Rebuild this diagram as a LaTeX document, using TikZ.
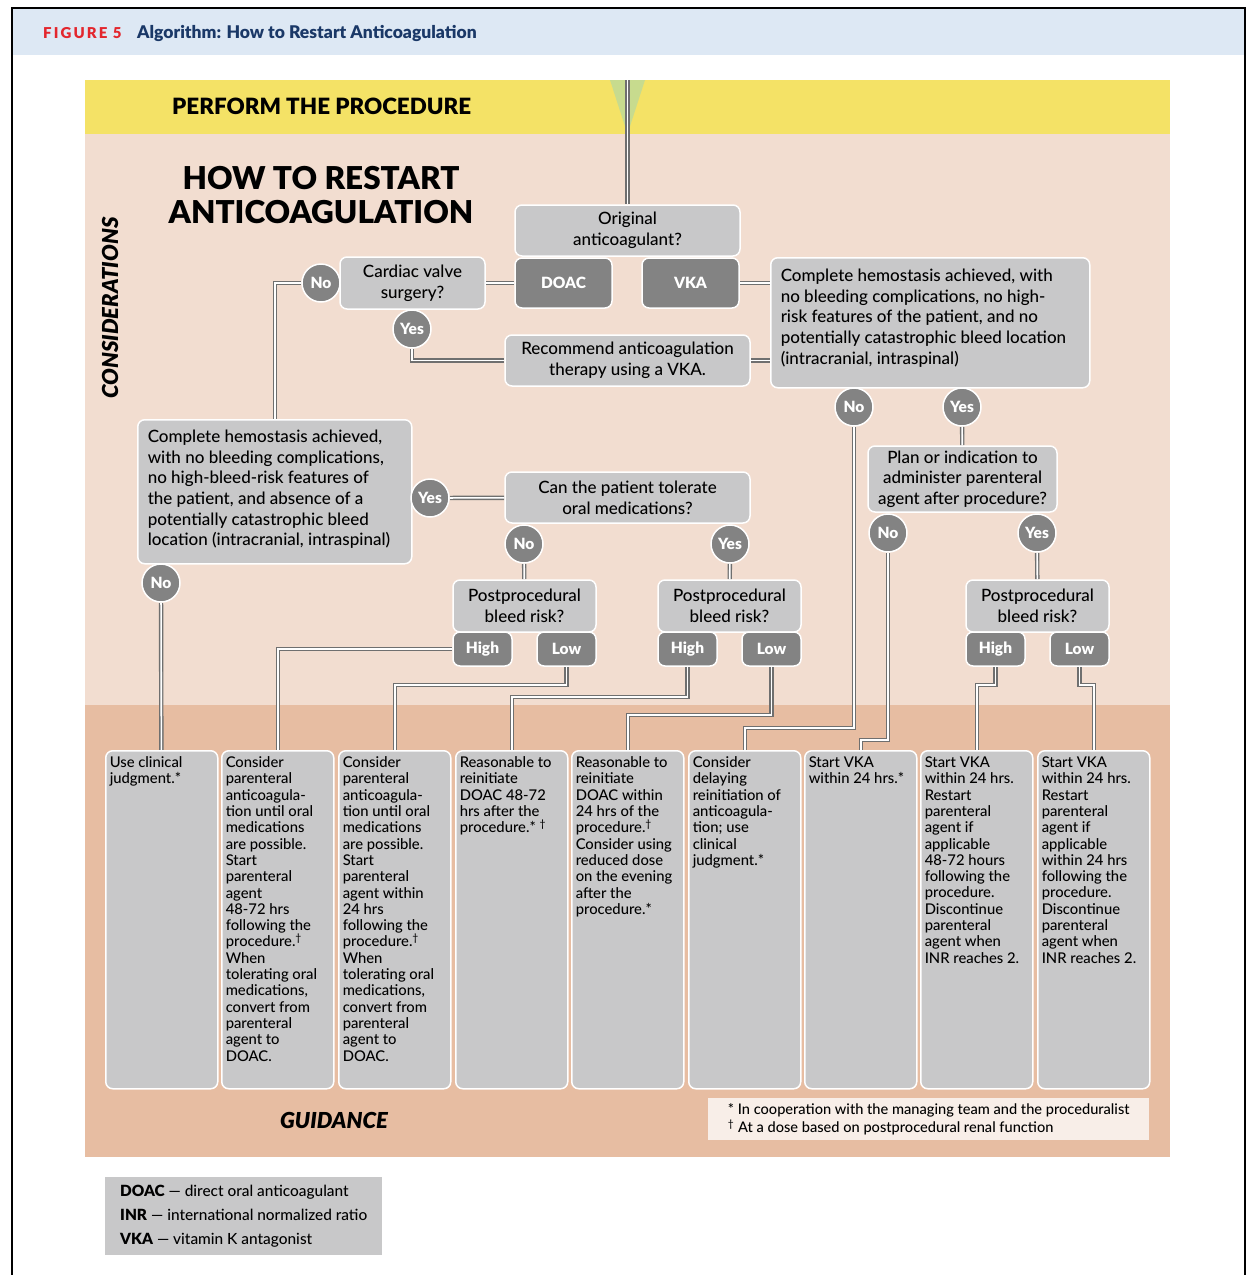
\documentclass[tikz,border=0pt]{standalone}
\usepackage{fontspec}
\setmainfont{Lato}[UprightFont={* Medium}]
\newfontfamily\figfont[LetterSpace=14]{Lato Black}
\usepackage{tikz}
\definecolor{hdrblue}{HTML}{DDE8F4}
\definecolor{figred}{HTML}{E3262D}
\definecolor{navy}{HTML}{1A3867}
\definecolor{procyellow}{HTML}{F4E266}
\definecolor{leafgreen}{HTML}{C7DB8E}
\definecolor{conspink}{HTML}{F2DDD0}
\definecolor{guidepink}{HTML}{E7BDA2}
\definecolor{boxgray}{HTML}{C8C8C9}
\definecolor{tabgray}{HTML}{838383}
\definecolor{linegray}{HTML}{6F6F6F}
\definecolor{notecream}{HTML}{F8EEE8}
\pgfdeclarelayer{bands}
\pgfdeclarelayer{links}
\pgfsetlayers{bands,links,main}

\begin{document}
\begin{tikzpicture}[x=1pt,y=-1pt]
\tikzstyle{every node}+=[inner sep=0pt]
\tikzstyle{qbox}=[draw=white, line width=1.5pt, fill=boxgray, rounded corners=7pt, align=center, font=\fontsize{17}{20.7}\selectfont]
\tikzstyle{tab}=[qbox, fill=tabgray, text=white, font=\bfseries\fontsize{15.5}{18}\selectfont]
\tikzstyle{yn}=[circle, draw=white, line width=1.5pt, fill=tabgray, text=white, minimum size=38pt, font=\bfseries\fontsize{15.5}{18}\selectfont]
\tikzstyle{gbox}=[qbox, anchor=north west, inner xsep=4pt, inner ysep=6pt, align=left, font=\fontsize{14.8}{16.3}\selectfont]
\tikzstyle{link}=[draw=linegray, line width=1.4pt, double=white, double distance=1.6pt]
\useasboundingbox (0,0) rectangle (1247,1275);

\begin{pgfonlayer}{bands}
\fill[white] (0,0) rectangle (1247,1275);
\fill[hdrblue] (13,9) rectangle (1244,55);
\draw[line width=1.5pt] (12,1276) -- (12,8) -- (1245,8) -- (1245,1276);
\fill[procyellow] (85,80) rectangle (1170,134);
\fill[conspink] (85,134) rectangle (1170,705);
\fill[guidepink] (85,705) rectangle (1170,1157);
\fill[leafgreen] (610,80) -- (645,80) -- (627.5,134) -- cycle;
\end{pgfonlayer}

\node[anchor=west, text=figred, font=\figfont\fontsize{15}{17}\selectfont] (fignum) at (43,33) {FIGURE 5};
\node[anchor=west, text=navy, font=\bfseries\fontsize{17.5}{20}\selectfont] (figtitle) at (137,33) {Algorithm: How to Restart Anticoagulation};
\node[anchor=west, font=\bfseries\fontsize{22.4}{26}\selectfont] (perform) at (172,106) {PERFORM THE PROCEDURE};
\node[align=center, font=\bfseries\fontsize{31.5}{34}\selectfont] (howto) at (321,195) {HOW TO RESTART\\ANTICOAGULATION};
\node[rotate=90, font=\bfseries\itshape\fontsize{22}{25}\selectfont] (considerations) at (110,308) {CONSIDERATIONS};
\node[font=\bfseries\itshape\fontsize{22}{25}\selectfont] (guidance) at (334,1120) {GUIDANCE};
\coordinate (ptop) at (627.5,80);

\node[qbox, minimum width=225pt, minimum height=51pt] (orig) at (627.5,230.5) {Original\\anticoagulant?};
\node[tab, minimum width=97pt, minimum height=50pt] (doac) at (563.5,283) {DOAC};
\node[tab, minimum width=97pt, minimum height=50pt] (vka) at (690.5,283) {VKA};
\node[qbox, minimum width=145pt, minimum height=52pt] (valve) at (412.5,283) {Cardiac valve\\surgery?};
\node[yn] (valveno) at (321,283) {No};
\node[yn] (valveyes) at (412,329) {Yes};
\node[qbox, minimum width=245pt, minimum height=51pt] (recvka) at (627.5,360.5) {Recommend anticoagulation\\therapy using a VKA.};
\node[qbox, anchor=north west, inner xsep=10pt, inner ysep=11pt] (hemoR) at (770,257) {\parbox[t][108pt][t]{299pt}{\raggedright Complete hemostasis achieved, with\\no bleeding complications, no high-\\risk features of the patient, and no\\potentially catastrophic bleed location\\(intracranial, intraspinal)}};
\node[yn] (hrno) at (854,407) {No};
\node[yn] (hryes) at (962,407) {Yes};
\node[qbox, minimum width=189pt, minimum height=66pt] (plan) at (962.5,479) {Plan or indication to\\administer parenteral\\agent after procedure?};
\node[yn] (planno) at (888,533) {No};
\node[yn] (planyes) at (1037,533) {Yes};
\node[qbox, minimum width=143pt, minimum height=52pt] (ppR) at (1037.5,606) {Postprocedural\\bleed risk?};
\node[tab, minimum width=59pt, minimum height=34pt] (hiR) at (995.5,649) {High};
\node[tab, minimum width=59pt, minimum height=34pt] (loR) at (1079.5,649) {Low};

\node[qbox, anchor=north west, inner xsep=10pt, inner ysep=10pt] (hemoL) at (137,419) {\parbox[t][124pt][t]{254pt}{\raggedright Complete hemostasis achieved,\\with no bleeding complications,\\no high-bleed-risk features of\\the patient, and absence of a\\potentially catastrophic bleed\\location (intracranial, intraspinal)}};
\node[yn] (hlno) at (161,583) {No};
\node[yn] (hlyes) at (430,498) {Yes};
\node[qbox, minimum width=245pt, minimum height=51pt] (oral) at (627.5,497.5) {Can the patient tolerate\\oral medications?};
\node[yn] (oralno) at (524,544) {No};
\node[yn] (oralyes) at (730,544) {Yes};
\node[qbox, minimum width=143pt, minimum height=52pt] (ppL) at (524.5,606) {Postprocedural\\bleed risk?};
\node[tab, minimum width=59pt, minimum height=34pt] (hiL) at (482.5,649) {High};
\node[tab, minimum width=59pt, minimum height=34pt] (loL) at (566.5,649) {Low};
\node[qbox, minimum width=143pt, minimum height=52pt] (ppM) at (729.5,606) {Postprocedural\\bleed risk?};
\node[tab, minimum width=59pt, minimum height=34pt] (hiM) at (687.5,649) {High};
\node[tab, minimum width=59pt, minimum height=34pt] (loM) at (771.5,649) {Low};

\node[gbox] (g1) at (105,750) {\parbox[t][326pt][t]{104pt}{\raggedright Use clinical\\judgment.*}};
\node[gbox] (g2) at (221,750) {\parbox[t][326pt][t]{104pt}{\raggedright Consider\\parenteral\\anticoagula-\\tion until oral\\medications\\are possible.\\Start\\parenteral\\agent\\48-72 hrs\\following the\\procedure.\textsuperscript{†}\\When\\tolerating oral\\medications,\\convert from\\parenteral\\agent to\\DOAC.}};
\node[gbox] (g3) at (338,750) {\parbox[t][326pt][t]{104pt}{\raggedright Consider\\parenteral\\anticoagula-\\tion until oral\\medications\\are possible.\\Start\\parenteral\\agent within\\24 hrs\\following the\\procedure.\textsuperscript{†}\\When\\tolerating oral\\medications,\\convert from\\parenteral\\agent to\\DOAC.}};
\node[gbox] (g4) at (455,750) {\parbox[t][326pt][t]{104pt}{\raggedright Reasonable to\\reinitiate\\DOAC 48-72\\hrs after the\\procedure.* \textsuperscript{†}}};
\node[gbox] (g5) at (571,750) {\parbox[t][326pt][t]{104pt}{\raggedright Reasonable to\\reinitiate\\DOAC within\\24 hrs of the\\procedure.\textsuperscript{†}\\Consider using\\reduced dose\\on the evening\\after the\\procedure.*}};
\node[gbox] (g6) at (688,750) {\parbox[t][326pt][t]{104pt}{\raggedright Consider\\delaying\\reinitiation of\\anticoagula-\\tion; use\\clinical\\judgment.*}};
\node[gbox] (g7) at (804,750) {\parbox[t][326pt][t]{104pt}{\raggedright Start VKA\\within 24 hrs.*}};
\node[gbox] (g8) at (920,750) {\parbox[t][326pt][t]{104pt}{\raggedright Start VKA\\within 24 hrs.\\Restart\\parenteral\\agent if\\applicable\\48-72 hours\\following the\\procedure.\\Discontinue\\parenteral\\agent when\\INR reaches 2.}};
\node[gbox] (g9) at (1037,750) {\parbox[t][326pt][t]{104pt}{\raggedright Start VKA\\within 24 hrs.\\Restart\\parenteral\\agent if\\applicable\\within 24 hrs\\following the\\procedure.\\Discontinue\\parenteral\\agent when\\INR reaches 2.}};

\node[fill=notecream, anchor=north west, minimum width=441pt, minimum height=42pt, align=left, font=\fontsize{14.6}{18}\selectfont] (notes) at (708,1098) {* In cooperation with the managing team and the proceduralist\\\textsuperscript{†} At a dose based on postprocedural renal function};
\node[fill=boxgray, anchor=north west, minimum width=277pt, minimum height=78pt, align=left, font=\fontsize{15.4}{24}\selectfont] (legend) at (105,1177) {\textbf{DOAC} --- direct oral anticoagulant\\\textbf{INR} --- international normalized ratio\\\textbf{VKA} --- vitamin K antagonist};

\begin{pgfonlayer}{links}
\draw[link] (ptop) -- (orig);
\draw[link] (valve) -- (doac);
\draw[link] (vka.east) -- (vka.east -| hemoR.west);
\draw[link] (valveno) -| (hemoL.north);
\draw[link] (valveyes) |- (recvka.west);
\draw[link] (recvka.east) -- (recvka.east -| hemoR.west);
\draw[link] (hrno) |- ([yshift=22pt]g6.north) -- (g6.north);
\draw[link] (hryes) -- (plan);
\draw[link] (planno) |- ([yshift=10pt]g7.north) -- (g7.north);
\draw[link] (planyes) -- (ppR);
\draw[link] (hiR) |- ([yshift=65pt]g8.north) -- (g8.north);
\draw[link] (loR) |- ([yshift=65pt]g9.north) -- (g9.north);
\draw[link] (hlno) -- (g1);
\draw[link] (hlyes) -- (oral);
\draw[link] (oralno) -- (ppL);
\draw[link] (oralyes) -- (ppM);
\draw[link] (hiL) -| (g2);
\draw[link] (loL) |- ([yshift=65pt]g3.north) -- (g3.north);
\draw[link] (hiM) |- ([yshift=53pt]g4.north) -- (g4.north);
\draw[link] (loM) |- ([yshift=35pt]g5.north) -- (g5.north);
\end{pgfonlayer}
\end{tikzpicture}
\end{document}
